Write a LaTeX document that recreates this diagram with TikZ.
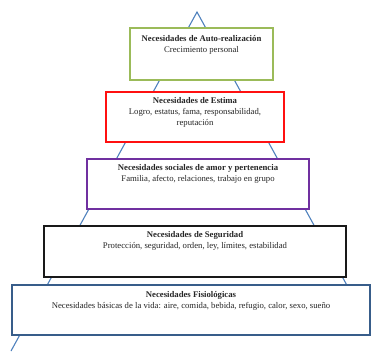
\documentclass[tikz,border=0pt]{standalone}
\usepackage{fontspec}
\setmainfont{Liberation Serif}
\definecolor{cgreen}{HTML}{9BBB59}
\definecolor{cred}{HTML}{FF1010}
\definecolor{cpurple}{HTML}{7030A0}
\definecolor{cslate}{HTML}{385D8A}
\definecolor{cline}{HTML}{4F81BD}
\begin{document}
\begin{tikzpicture}[x=1pt,y=-1pt,
  level/.style={draw, fill=white, line width=1.4pt, inner sep=0pt, minimum width=#1},
  txt/.style={anchor=north, align=center, inner sep=0pt, font=\fontsize{8.7}{11}\selectfont, text=black!85},
  side/.style={draw=cline, line width=1.1pt}]
\useasboundingbox (0,0) rectangle (371,351);
\begin{scope}
\clip (0,0) rectangle (371,351);
\coordinate (apex) at (197,12);
\coordinate (bl) at (11,351);
\coordinate (br) at (383,351);
\draw[side] (bl) -- (apex) -- (br);
\end{scope}
% boxes
\node[level=143pt, draw=cgreen, minimum height=52pt] (b1) at (201.5,54) {};
\node[level=178pt, draw=cred, minimum height=50pt] (b2) at (195,117) {};
\node[level=222pt, draw=cpurple, minimum height=50pt] (b3) at (198,184) {};
\node[level=302pt, draw=black!90, minimum height=51pt] (b4) at (195,251.5) {};
\node[level=358pt, draw=cslate, minimum height=50pt] (b5) at (191,310) {};
% texts
\node[txt] (t1) at ([yshift=-8pt]b1.north) {\textbf{Necesidades de Auto-realización}\\Crecimiento personal};
\node[txt] (t2) at ([yshift=-6pt]b2.north) {\textbf{Necesidades de Estima}\\Logro, estatus, fama, responsabilidad,\\reputación};
\node[txt] (t3) at ([yshift=-6pt]b3.north) {\textbf{Necesidades sociales de amor y pertenencia}\\Familia, afecto, relaciones, trabajo en grupo};
\node[txt] (t4) at ([yshift=-6pt]b4.north) {\textbf{Necesidades de Seguridad}\\Protección, seguridad, orden, ley, límites, estabilidad};
\node[txt] (t5) at ([yshift=-7pt]b5.north) {\textbf{Necesidades Fisiológicas}\\Necesidades básicas de la vida: aire, comida, bebida, refugio, calor, sexo, sueño};
\end{tikzpicture}
\end{document}
